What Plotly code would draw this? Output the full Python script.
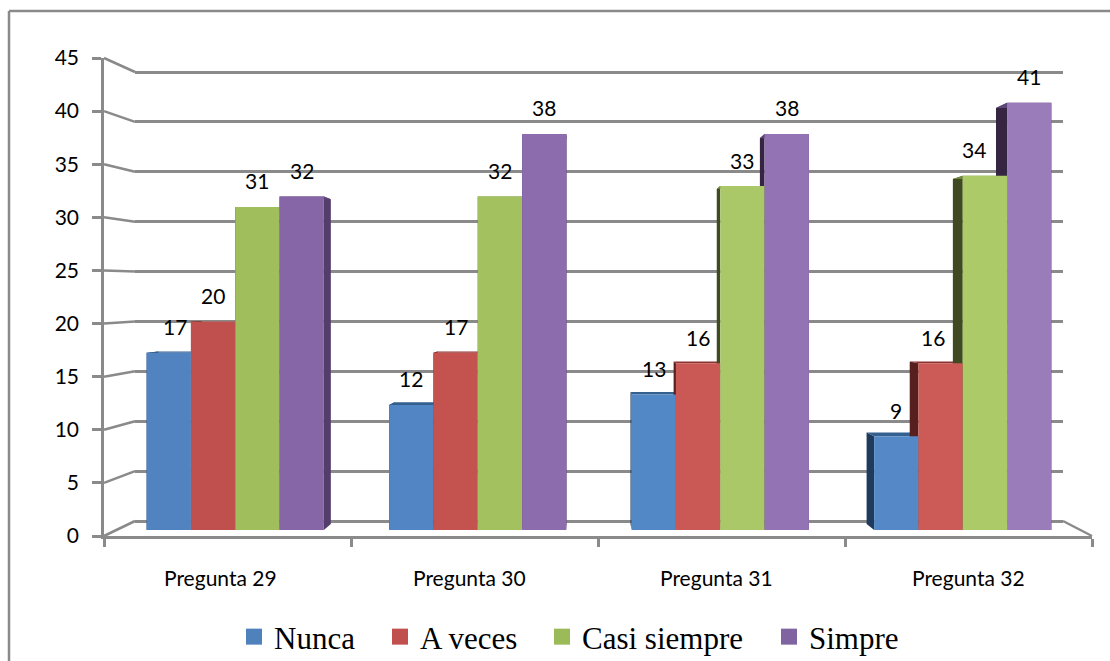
import plotly.graph_objects as go

W, H = 1110, 661

# ---- data ----
categories = ["Pregunta 29", "Pregunta 30", "Pregunta 31", "Pregunta 32"]
series_names = ["Nunca", "A veces", "Casi siempre", "Simpre"]
nunca = [17, 12, 13, 9]
a_veces = [20, 17, 16, 16]
casi_siempre = [31, 32, 33, 34]
simpre = [32, 38, 38, 41]
series_values = [nunca, a_veces, casi_siempre, simpre]
y_ticks = [0, 5, 10, 15, 20, 25, 30, 35, 40, 45]

# ---- styling ----
legend_colors = ["#4F81BD", "#C0504D", "#9BBB59", "#8064A2"]
front_colors = [
    ["#5083BF", "#5185C3", "#5388C6", "#5588C6"],
    ["#C0504D", "#C4534F", "#CA5855", "#CC5A57"],
    ["#A0BE5C", "#A3C15F", "#AAC868", "#ACCB68"],
    ["#8666A6", "#8C6CAD", "#9373B4", "#9A7CBA"],
]
side_colors = ["#1F3A5C", "#57201F", "#3F4A22", "#352542"]
right_side_color = "#533E6B"
top_colors = ["#34608F", "#8B3533", "#6F8A3C", "#5C4778"]
GREY = "#8A8A8A"
LW = 2.5

# pixel geometry of the stacked planes
BACK = dict(x0=135, x1=1063, y0=521, y45=72)
BARS = dict(x0=114, x1=1084, y0=530, y45=61)
FRONT = dict(x0=104, x1=1092, y0=536, y45=58)
BAR_W = 0.1827
BAR_GAP = 0.269
DEPTH = 0.0264
VP_X, VP_Y = 588, 300
BACK_PAD = 1  # value units beyond 0 and 45 so the outer grid lines get drawn


def xdom(p):
    return [p["x0"] / W, p["x1"] / W]


def ydom(p, pad=0):
    unit = (p["y0"] - p["y45"]) / 45
    return [1 - (p["y0"] + pad * unit) / H, 1 - (p["y45"] - pad * unit) / H]


def bar_px(u, v):
    px = BARS["x0"] + (u + 0.5) / 4 * (BARS["x1"] - BARS["x0"])
    py = BARS["y0"] + v / 45 * (BARS["y45"] - BARS["y0"])
    return px, py


def px_bar(px, py):
    u = (px - BARS["x0"]) / (BARS["x1"] - BARS["x0"]) * 4 - 0.5
    v = (py - BARS["y0"]) / (BARS["y45"] - BARS["y0"]) * 45
    return u, v


def back_of(u, v):
    px, py = bar_px(u, v)
    return px_bar(px + DEPTH * (VP_X - px), py + DEPTH * (VP_Y - py))


fig = go.Figure()

# wall (first subplot, so that its grid lies under everything)
fig.add_trace(go.Scatter(x=[None], y=[None], xaxis="x", yaxis="y", mode="markers",
                         showlegend=False, hoverinfo="skip"))

# depth faces of the bars (second subplot)
for s, vals in enumerate(series_values):
    for g, v in enumerate(vals):
        left = g + (s - 2) * BAR_W
        right = left + BAR_W
        lb = back_of(left, v)
        lb0 = back_of(left, 0)
        rb = back_of(right, v)
        rb0 = back_of(right, 0)
        faces = [
            ([left, lb[0], lb0[0], left, left], [v, lb[1], lb0[1], 0, v], side_colors[s]),
            ([right, rb[0], rb0[0], right, right], [v, rb[1], rb0[1], 0, v],
             right_side_color if s == 3 else side_colors[s]),
            ([left, right, rb[0], lb[0], left], [v, v, rb[1], lb[1], v], top_colors[s]),
        ]
        for fx, fy_, col in faces:
            fig.add_trace(go.Scatter(x=fx, y=fy_, xaxis="x2", yaxis="y2", mode="lines",
                                     fill="toself", fillcolor=col, line=dict(width=0),
                                     showlegend=False, hoverinfo="skip"))

# front faces (third subplot, above the depth faces)
for s, vals in enumerate(series_values):
    fig.add_trace(go.Bar(x=list(range(4)), y=vals, name=series_names[s], xaxis="x3", yaxis="y3",
                         marker=dict(color=front_colors[s], line=dict(width=0)),
                         showlegend=False))

# front axes subplot + one small legend per entry
legend_text_left = [272, 418, 580, 807]
legend_names = ["legend", "legend2", "legend3", "legend4"]
for s, name in enumerate(series_names):
    fig.add_trace(go.Scatter(x=[None], y=[None], xaxis="x4", yaxis="y4", mode="markers", name=name,
                             legend=legend_names[s], showlegend=True,
                             marker=dict(symbol="square", size=16, color=legend_colors[s])))

shapes = []


def fy(v):
    return 1 - (FRONT["y0"] + v / 45 * (FRONT["y45"] - FRONT["y0"])) / H


def by(v):
    return 1 - (BACK["y0"] + v / 45 * (BACK["y45"] - BACK["y0"])) / H


# slanted connectors between front axis and back wall
for t in y_ticks:
    shapes.append(dict(type="line", xref="paper", yref="paper", x0=FRONT["x0"] / W, x1=BACK["x0"] / W,
                       y0=fy(t), y1=by(t), line=dict(color=GREY, width=LW), layer="below"))
shapes.append(dict(type="line", xref="paper", yref="paper", x0=BACK["x1"] / W, x1=FRONT["x1"] / W,
                   y0=by(0), y1=fy(0), line=dict(color=GREY, width=LW), layer="below"))
# chart frame, cut by the edges of the picture
for x0, y0, x1, y1 in [(9, 11, 9, 661), (9, 11, 1110, 11)]:
    shapes.append(dict(type="line", xref="paper", yref="paper", x0=x0 / W, x1=x1 / W,
                       y0=1 - y0 / H, y1=1 - y1 / H, line=dict(color=GREY, width=LW), layer="below"))

# data labels
annotations = []
label_shift = [[6, 0, 0, 0], [0, 0, 0, -8], [0, 0, 0, -11], [0, 0, 0, 0]]
for s, vals in enumerate(series_values):
    for g, v in enumerate(vals):
        annotations.append(dict(x=g + (s - 1.5) * BAR_W, y=v, xref="x3", yref="y3", text=str(v),
                                showarrow=False, yshift=26, xshift=label_shift[s][g],
                                font=dict(family="Lato", size=21, color="#000000")))

# category labels
cat_shift = [-7, -5, -5, 0]
for g, c in enumerate(categories):
    annotations.append(dict(x=g + 0.5, y=1 - 577 / H, xref="x4", yref="paper", yanchor="middle", text=c,
                            showarrow=False, xshift=cat_shift[g],
                            font=dict(family="Lato", size=21, color="#000000")))

legends = {}
for s, key in enumerate(legend_names):
    legends[key] = dict(x=(legend_text_left[s] - 38) / W, xanchor="left", y=1 - 637 / H, yanchor="middle",
                        font=dict(family="Liberation Serif", size=31, color="#000000"),
                        bgcolor="rgba(0,0,0,0)")

fig.update_layout(
    width=W, height=H, margin=dict(l=0, r=0, t=0, b=0, autoexpand=False), autosize=False,
    paper_bgcolor="#FFFFFF", plot_bgcolor="rgba(0,0,0,0)",
    barmode="group", bargap=BAR_GAP, bargroupgap=0,
    shapes=shapes, annotations=annotations,
    hovermode=False,
    xaxis=dict(domain=xdom(BACK), range=[0, 1], visible=False),
    yaxis=dict(domain=ydom(BACK, BACK_PAD), range=[-BACK_PAD, 45 + BACK_PAD], tickvals=y_ticks,
               showgrid=True, gridcolor=GREY, gridwidth=LW,
               showline=False, showticklabels=False, ticks="", zeroline=False),
    xaxis2=dict(domain=xdom(BARS), range=[-0.5, 3.5], visible=False, anchor="y2"),
    yaxis2=dict(domain=ydom(BARS), range=[0, 45], visible=False, anchor="x2"),
    xaxis3=dict(domain=xdom(BARS), range=[-0.5, 3.5], visible=False, anchor="y3"),
    yaxis3=dict(domain=ydom(BARS), range=[0, 45], visible=False, anchor="x3"),
    xaxis4=dict(domain=xdom(FRONT), range=[0, 4], tickvals=[0, 1, 2, 3, 4], showticklabels=False,
                ticks="outside", ticklen=8, tickwidth=LW, tickcolor=GREY, showline=True, linecolor=GREY,
                linewidth=LW, showgrid=False, zeroline=False, anchor="y4"),
    yaxis4=dict(domain=ydom(FRONT), range=[0, 45], tickvals=y_ticks, ticks="outside", ticklen=9, tickwidth=LW,
                tickcolor=GREY, showline=True, linecolor=GREY, linewidth=LW, showgrid=False, zeroline=False,
                anchor="x4", ticklabelstandoff=9,
                tickfont=dict(family="Lato", size=21, color="#000000")),
    **legends,
)

fig.write_html("out.html", post_script="document.body.style.margin='0';",
               config={"displayModeBar": False})
